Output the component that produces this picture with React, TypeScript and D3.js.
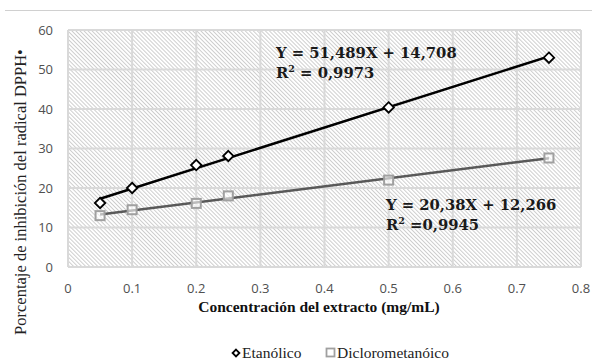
import React, { useEffect, useRef } from 'react';
import * as d3 from 'd3';

const xTicks = [0, 0.1, 0.2, 0.3, 0.4, 0.5, 0.6, 0.7, 0.8];
const yTicks = [0, 10, 20, 30, 40, 50, 60];

const concentraciones = [0.05, 0.1, 0.2, 0.25, 0.5, 0.75];
const etanolico = [16.2, 20.0, 25.8, 28.1, 40.4, 53.0];
const diclorometanoico = [13.0, 14.5, 16.1, 18.0, 22.0, 27.6];

// trend lines: [slope, intercept]
const trendEtanolico = [51.489, 14.708];
const trendDicloro = [20.38, 12.266];

const App = () => {
  const svgRef = useRef<SVGSVGElement>(null);

  useEffect(() => {
    const width = 592;
    const height = 364;
    const m = { left: 68, right: 11, top: 30, bottom: 97 };

    const svg = d3.select(svgRef.current).attr('width', width).attr('height', height);
    svg.selectAll('*').remove();

    const x = d3.scaleLinear().domain([0, 0.8]).range([m.left, width - m.right]);
    const y = d3.scaleLinear().domain([0, 60]).range([height - m.bottom, m.top]);

    // hatch pattern for plot area
    const hs = 2.85;
    const defs = svg.append('defs');
    const pat = defs.append('pattern')
      .attr('id', 'hatch')
      .attr('width', hs)
      .attr('height', hs)
      .attr('patternUnits', 'userSpaceOnUse')
      .attr('patternTransform', 'rotate(-45)');
    pat.append('rect').attr('width', hs).attr('height', hs).attr('fill', '#fff');
    pat.append('line')
      .attr('x1', 0.5).attr('y1', 0).attr('x2', 0.5).attr('y2', hs)
      .attr('stroke', '#c2c2c2').attr('stroke-width', 0.8);

    // top rule
    svg.append('line')
      .attr('x1', 5).attr('x2', width).attr('y1', 10.5).attr('y2', 10.5)
      .attr('stroke', '#d0d0d0').attr('stroke-width', 1);

    svg.append('rect')
      .attr('x', x(0)).attr('y', y(60))
      .attr('width', x(0.8) - x(0)).attr('height', y(0) - y(60))
      .attr('fill', 'url(#hatch)');

    // gridlines
    svg.append('g').selectAll('line').data(xTicks).enter().append('line')
      .attr('x1', (d) => x(d)).attr('x2', (d) => x(d))
      .attr('y1', y(0)).attr('y2', y(60))
      .attr('stroke', '#d9d9d9').attr('stroke-width', 2);
    svg.append('g').selectAll('line').data(yTicks).enter().append('line')
      .attr('x1', x(0)).attr('x2', x(0.8))
      .attr('y1', (d) => y(d)).attr('y2', (d) => y(d))
      .attr('stroke', '#d9d9d9').attr('stroke-width', 2);

    // tick labels
    const tickFont = 'Open Sans, Liberation Sans, sans-serif';
    svg.append('g').selectAll('text').data(xTicks).enter().append('text')
      .attr('x', (d) => x(d)).attr('y', y(0) + 26)
      .attr('text-anchor', 'middle')
      .attr('font-family', tickFont).attr('font-size', 13).attr('fill', '#505050')
      .text((d) => (d === 0 ? '0' : String(d)));
    svg.append('g').selectAll('text').data(yTicks).enter().append('text')
      .attr('x', x(0) - 15).attr('y', (d) => y(d) + 4.5)
      .attr('text-anchor', 'end')
      .attr('font-family', tickFont).attr('font-size', 13).attr('fill', '#505050')
      .text((d) => String(d));

    // trend lines
    const xs = [concentraciones[0], concentraciones[concentraciones.length - 1]];
    const line = d3.line<number[]>().x((d) => x(d[0])).y((d) => y(d[1]));
    svg.append('path')
      .attr('d', line(xs.map((v) => [v, trendDicloro[0] * v + trendDicloro[1]])))
      .attr('fill', 'none').attr('stroke', '#595959').attr('stroke-width', 2.5);
    svg.append('path')
      .attr('d', line(xs.map((v) => [v, trendEtanolico[0] * v + trendEtanolico[1]])))
      .attr('fill', 'none').attr('stroke', '#000').attr('stroke-width', 2.5);

    // markers
    const sq = 9;
    svg.append('g').selectAll('rect').data(concentraciones).enter().append('rect')
      .attr('x', (d) => x(d) - sq / 2)
      .attr('y', (d, i) => y(diclorometanoico[i]) - sq / 2)
      .attr('width', sq).attr('height', sq)
      .attr('fill', '#fff').attr('fill-opacity', 0.6)
      .attr('stroke', '#a0a0a0').attr('stroke-width', 2);
    const diamond = d3.symbol().type(d3.symbolDiamond2).size(70);
    svg.append('g').selectAll('path').data(concentraciones).enter().append('path')
      .attr('d', diamond)
      .attr('transform', (d, i) => `translate(${x(d)},${y(etanolico[i])})`)
      .attr('fill', '#fff').attr('stroke', '#000').attr('stroke-width', 1.8);

    // equations
    const eqFont = 'DejaVu Serif, Liberation Serif, serif';
    const eq = (tx, ty, main, r2) => {
      svg.append('text').attr('x', tx).attr('y', ty)
        .attr('font-family', eqFont).attr('font-weight', 'bold').attr('font-size', 14.8).attr('fill', '#1a1a1a')
        .text(main);
      const t = svg.append('text').attr('x', tx).attr('y', ty + 20)
        .attr('font-family', eqFont).attr('font-weight', 'bold').attr('font-size', 14.8).attr('fill', '#1a1a1a');
      t.append('tspan').text('R');
      t.append('tspan').attr('dy', -6).attr('font-size', 9.5).text('2');
      t.append('tspan').attr('dy', 6).text(r2);
    };
    eq(276, 58, 'Y = 51,489X + 14,708', ' = 0,9973');
    eq(386, 210, 'Y = 20,38X + 12,266', ' =0,9945');

    // axis titles
    svg.append('text')
      .attr('x', 319).attr('y', 312)
      .attr('text-anchor', 'middle')
      .attr('font-family', 'Liberation Serif, serif').attr('font-weight', 'bold').attr('font-size', 15.5)
      .attr('fill', '#111')
      .text('Concentración del extracto (mg/mL)');
    svg.append('text')
      .attr('transform', 'translate(26,192) rotate(-90)')
      .attr('text-anchor', 'middle')
      .attr('font-family', 'Liberation Serif, serif').attr('font-size', 16.5).attr('fill', '#222')
      .text('Porcentaje de inhibición del radical DPPH•');

    // legend
    const lg = svg.append('g').attr('font-family', 'Liberation Serif, serif').attr('font-size', 15.5);
    lg.append('path')
      .attr('d', d3.symbol().type(d3.symbolDiamond2).size(30))
      .attr('transform', 'translate(236,353)')
      .attr('fill', '#fff').attr('stroke', '#000').attr('stroke-width', 1.8);
    lg.append('text').attr('x', 242).attr('y', 358).attr('fill', '#222').text('Etanólico');
    lg.append('rect').attr('x', 326.5).attr('y', 348.5).attr('width', 8).attr('height', 8)
      .attr('fill', '#fff').attr('stroke', '#a0a0a0').attr('stroke-width', 1.8);
    lg.append('text').attr('x', 337).attr('y', 358).attr('fill', '#222').text('Diclorometanóico');
  }, []);

  return <svg ref={svgRef} style={{ display: 'block', position: 'absolute', left: 0, top: 0 }}></svg>;
};

export default App;
